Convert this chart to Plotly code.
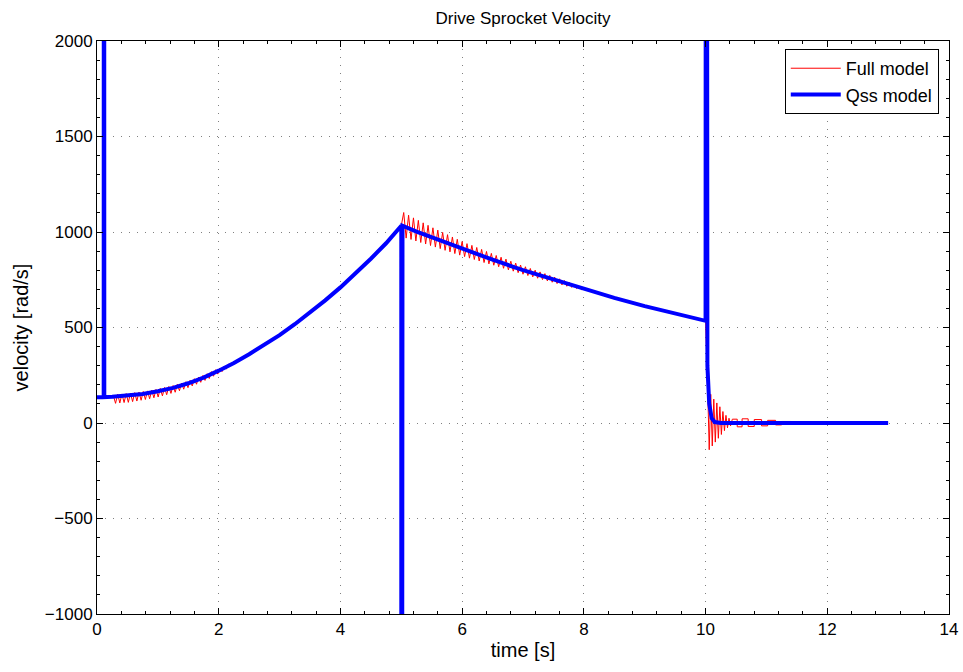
import plotly.graph_objects as go

# ---------------- data ----------------
# Qss model (thick blue)
qss_t = [0.0, 0.11, 0.115, 0.12,
         0.25, 0.5, 0.75, 1.0, 1.25, 1.5, 1.75, 2.0, 2.25, 2.5, 2.75, 3.0,
         3.25, 3.5, 3.75, 4.0, 4.25, 4.5, 4.75, 5.0,
         5.0, 5.02,
         5.25, 5.5, 5.75, 6.0, 6.5, 7.0, 7.5, 8.0, 8.5, 9.0, 9.5, 10.0,
         10.01, 10.03, 10.06, 10.1, 10.15, 10.25, 13.0]
qss_v = [135, 135, 9000, 135,
         137, 142, 152, 166, 184, 208, 238, 274, 314, 360, 408, 460,
         517, 578, 642, 710, 783, 860, 941, 1033,
         -9000, 1033,
         1002, 972, 940, 910, 855, 800, 750, 700, 655, 612, 572, 535,
         9000, 300, 100, 25, 5, 0, 0]

# Full model (thin red)
full_t = [0.0, 0.27,
          0.305, 0.34, 0.375, 0.41, 0.445, 0.48, 0.515, 0.55, 0.585, 0.62,
          0.655, 0.69, 0.725, 0.76, 0.795, 0.83, 0.865, 0.90, 0.935, 0.97,
          1.005, 1.04, 1.075, 1.11, 1.145, 1.18, 1.215, 1.25, 1.285, 1.32,
          1.355, 1.39, 1.425, 1.46, 1.495, 1.53, 1.565, 1.60, 1.635, 1.67,
          1.705, 1.74, 1.775, 1.81, 1.845, 1.88, 1.915, 1.95, 1.985, 2.02,
          2.055, 2.09, 2.125, 2.16, 2.2,
          2.25, 2.5, 2.75, 3.0, 3.25, 3.5, 3.75, 4.0, 4.25, 4.5, 4.75, 5.0,
          5.04, 5.08, 5.12, 5.16, 5.20, 5.24, 5.28, 5.32, 5.36, 5.40,
          5.44, 5.48, 5.52, 5.56, 5.60, 5.64, 5.68, 5.72, 5.76, 5.80,
          5.84, 5.88, 5.92, 5.96, 6.00, 6.04, 6.08, 6.12, 6.16, 6.20,
          6.24, 6.28, 6.32, 6.36, 6.40, 6.44, 6.48, 6.52, 6.56, 6.60,
          6.64, 6.68, 6.72, 6.76, 6.80, 6.84, 6.88, 6.92, 6.96, 7.00,
          7.04, 7.08, 7.12, 7.16, 7.20, 7.24, 7.28, 7.32, 7.36, 7.40,
          7.44, 7.48, 7.52, 7.56, 7.60, 7.64, 7.68, 7.72, 7.76, 7.80,
          7.84, 7.88, 7.92, 7.96,
          8.0, 8.5, 9.0, 9.5, 10.0,
          10.035, 10.06, 10.085, 10.11, 10.135, 10.16, 10.185, 10.21, 10.235,
          10.26, 10.285, 10.31, 10.335, 10.36, 10.385, 10.41,
          10.44, 10.52, 10.52, 10.6, 10.6, 10.7, 10.7, 10.8, 10.8, 10.92,
          10.92, 11.02, 11.02, 11.15, 11.15, 11.25, 11.25, 11.4, 11.4, 13.0]
full_v = [135, 142,
          103, 151, 105, 152, 107, 154, 108, 156, 112, 159,
          115, 162, 119, 165, 123, 168, 127, 172, 132, 176,
          136, 181, 142, 186, 148, 191, 155, 196, 161, 203,
          169, 209, 177, 216, 185, 224, 194, 232, 203, 240,
          213, 249, 223, 258, 233, 269, 245, 279, 256, 288,
          269, 298, 282, 308, 306,
          314, 360, 408, 460, 517, 578, 642, 710, 783, 860, 941, 1033,
          1102, 968, 1088, 961, 1074, 953, 1061, 945, 1048, 937,
          1035, 929, 1022, 921, 1010, 913, 998, 904, 986, 896,
          974, 887, 962, 879, 950, 871, 939, 863, 930, 856,
          919, 848, 909, 840, 898, 833, 888, 826, 877, 818,
          868, 810, 858, 802, 847, 795, 837, 787, 827, 779,
          818, 772, 809, 765, 800, 758, 791, 751, 782, 744,
          773, 737, 764, 730, 755, 723, 746, 716, 736, 710,
          726, 704, 716, 698,
          700, 655, 612, 572, 535,
          175, -140, 150, -120, 125, -100, 105, -80, 85,
          -60, 60, -40, 40, -25, 25, -15,
          20, 20, -20, -20, 22, 22, -18, -18, 18, 18,
          -15, -15, 14, 14, -10, -10, 8, 8, 0, 0]

x_ticks = [0, 2, 4, 6, 8, 10, 12, 14]
y_ticks = [-1000, -500, 0, 500, 1000, 1500, 2000]

# ---------------- figure ----------------
FONT = "Liberation Sans, Arial, Helvetica, sans-serif"

fig = go.Figure()
fig.add_trace(go.Scatter(x=full_t, y=full_v, mode="lines", name="Full model",
                         line=dict(color="#ff0000", width=1)))
fig.add_trace(go.Scatter(x=qss_t, y=qss_v, mode="lines", name="Qss model",
                         line=dict(color="#0000ff", width=4)))

axis_common = dict(
    showline=True, linecolor="black", linewidth=1, mirror="ticks",
    ticks="inside", ticklen=6, tickcolor="black",
    showgrid=True, gridcolor="#808080", gridwidth=1, griddash="1px,7px",
    zeroline=False, automargin=False,
    tickfont=dict(family=FONT, size=17, color="black"),
)

fig.update_xaxes(range=[0, 14], tickvals=x_ticks,
                 title=dict(text="time [s]", font=dict(family=FONT, size=20, color="black"), standoff=4),
                 minor=dict(ticks="inside", ticklen=3, dtick=0.4, tickcolor="black", showgrid=False),
                 **axis_common)
fig.update_yaxes(range=[-1000, 2000], tickvals=y_ticks,
                 title=dict(text="velocity [rad/s]", font=dict(family=FONT, size=20, color="black"), standoff=10),
                 minor=dict(ticks="inside", ticklen=3, dtick=100, tickcolor="black", showgrid=False),
                 **axis_common)

fig.update_layout(
    width=963, height=672,
    margin=dict(l=97, r=14, t=41, b=58),
    paper_bgcolor="white", plot_bgcolor="white",
    title=dict(text="Drive Sprocket Velocity", x=0.5, xref="paper", y=1 - 18 / 672, yanchor="middle",
               font=dict(family=FONT, size=17, color="black")),
    showlegend=True,
    legend=dict(x=0.988, y=0.986, xanchor="right", yanchor="top",
                bgcolor="white", bordercolor="black", borderwidth=1,
                font=dict(family=FONT, size=18, color="black"),
                itemwidth=50, tracegroupgap=0),
)

fig.write_html("out.html")
